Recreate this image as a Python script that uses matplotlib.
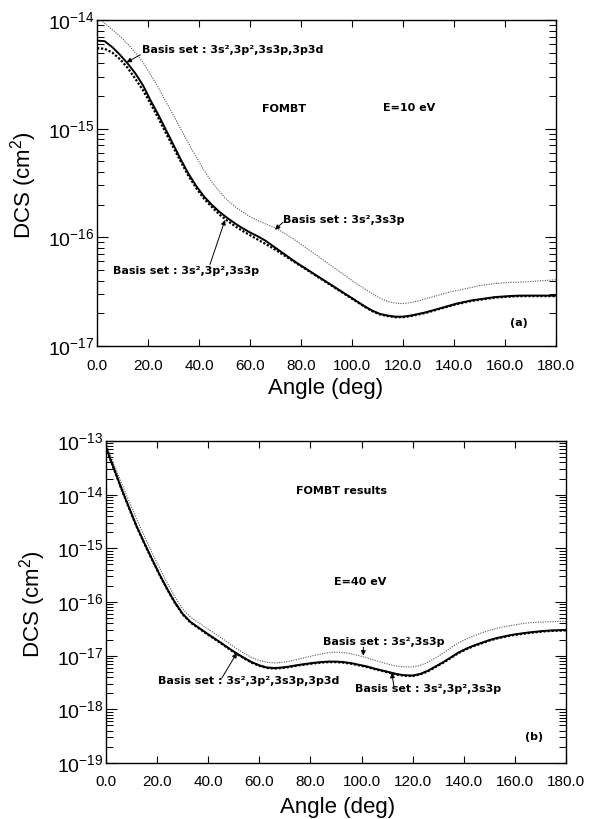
import numpy as np
import matplotlib
matplotlib.use("Agg")
import matplotlib.pyplot as plt
from matplotlib.ticker import FixedLocator, LogLocator, FuncFormatter, NullFormatter

plt.rcParams["font.family"] = ["Liberation Sans", "DejaVu Sans"]
plt.rcParams["mathtext.fontset"] = "custom"
plt.rcParams["mathtext.rm"] = "Liberation Sans"
plt.rcParams["mathtext.default"] = "regular"

# scattering angle (deg), same grid for both energies
angle = [0, 3, 6, 9, 12, 15, 18, 21, 24, 27, 30, 33, 36, 39, 42, 45, 48, 51, 54,
         57, 60, 63, 66, 69, 72, 75, 78, 81, 84, 87, 90, 93, 96, 99, 102, 105, 108,
         111, 114, 117, 120, 123, 126, 129, 132, 135, 138, 141, 144, 147, 150, 153,
         156, 159, 162, 165, 168, 171, 174, 177, 180]

# ---- (a) E = 10 eV, log10 DCS (cm^2) ----
full_a = [-14.19, -14.195, -14.25, -14.32, -14.40, -14.49, -14.60, -14.74, -14.87,
          -15.01, -15.15, -15.29, -15.42, -15.53, -15.625, -15.70, -15.765, -15.82,
          -15.87, -15.915, -15.955, -15.99, -16.03, -16.08, -16.13, -16.18, -16.23,
          -16.275, -16.32, -16.365, -16.41, -16.455, -16.50, -16.545, -16.59, -16.635,
          -16.675, -16.705, -16.72, -16.73, -16.73, -16.72, -16.705, -16.69, -16.67,
          -16.65, -16.63, -16.61, -16.595, -16.58, -16.57, -16.56, -16.55, -16.545,
          -16.54, -16.537, -16.536, -16.536, -16.536, -16.536, -16.536]
nod_a = [-14.26, -14.265, -14.30, -14.36, -14.44, -14.54, -14.645, -14.77, -14.90,
         -15.04, -15.175, -15.31, -15.44, -15.55, -15.645, -15.72, -15.79, -15.845,
         -15.895, -15.94, -15.98, -16.02, -16.06, -16.10, -16.145, -16.19, -16.235,
         -16.28, -16.325, -16.37, -16.415, -16.46, -16.505, -16.55, -16.595,
         -16.64, -16.68, -16.71, -16.725, -16.735, -16.735, -16.725, -16.71,
         -16.695, -16.675, -16.655, -16.635, -16.615, -16.60, -16.585, -16.575,
         -16.565, -16.555, -16.55, -16.545, -16.542, -16.541, -16.541, -16.541,
         -16.541, -16.541]
small_a = [-13.97, -14.03, -14.09, -14.15, -14.22, -14.30, -14.39, -14.50, -14.62,
           -14.75, -14.88, -15.01, -15.14, -15.265, -15.385, -15.49, -15.58, -15.655,
           -15.715, -15.765, -15.81, -15.845, -15.875, -15.905, -15.94, -15.985,
           -16.03, -16.08, -16.13, -16.18, -16.23, -16.28, -16.33, -16.38, -16.43,
           -16.475, -16.52, -16.56, -16.59, -16.605, -16.61, -16.60, -16.585, -16.565,
           -16.545, -16.525, -16.505, -16.49, -16.475, -16.46, -16.445, -16.435,
           -16.425, -16.42, -16.415, -16.413, -16.41, -16.405, -16.40, -16.395, -16.39]

# ---- (b) E = 40 eV, log10 DCS (cm^2) ----
full_b = [-13.12, -13.50, -13.88, -14.24, -14.59, -14.90, -15.20, -15.49, -15.76,
          -16.01, -16.22, -16.37, -16.47, -16.57, -16.665, -16.76, -16.86, -16.955,
          -17.04, -17.12, -17.18, -17.22, -17.23, -17.22, -17.20, -17.175, -17.155,
          -17.135, -17.12, -17.11, -17.11, -17.12, -17.14, -17.17, -17.20, -17.24,
          -17.275, -17.31, -17.345, -17.365, -17.37, -17.34, -17.28, -17.20, -17.12,
          -17.03, -16.94, -16.87, -16.81, -16.76, -16.71, -16.67, -16.64, -16.61,
          -16.59, -16.57, -16.555, -16.54, -16.53, -16.525, -16.52]
nod_b = [-13.13, -13.51, -13.89, -14.25, -14.60, -14.91, -15.21, -15.50, -15.77,
         -16.02, -16.23, -16.38, -16.48, -16.58, -16.675, -16.77, -16.87, -16.965,
         -17.05, -17.13, -17.19, -17.23, -17.24, -17.23, -17.21, -17.185, -17.165,
         -17.145, -17.13, -17.12, -17.12, -17.13, -17.15, -17.18, -17.21, -17.25,
         -17.285, -17.32, -17.355, -17.375, -17.38, -17.35, -17.29, -17.21, -17.13,
         -17.04, -16.95, -16.88, -16.82, -16.77, -16.72, -16.68, -16.65, -16.62,
         -16.60, -16.58, -16.565, -16.55, -16.54, -16.535, -16.53]
small_b = [-13.04, -13.42, -13.78, -14.12, -14.46, -14.77, -15.08, -15.37, -15.65,
           -15.91, -16.13, -16.28, -16.38, -16.475, -16.57, -16.665, -16.765,
           -16.865, -16.955, -17.035, -17.09, -17.125, -17.135, -17.125, -17.10,
           -17.07, -17.035, -17.00, -16.97, -16.945, -16.935, -16.945, -16.965,
           -17.00, -17.04, -17.085, -17.125, -17.165, -17.195, -17.21, -17.21, -17.18,
           -17.12, -17.04, -16.95, -16.85, -16.76, -16.69, -16.63, -16.575, -16.53,
           -16.49, -16.46, -16.435, -16.41, -16.39, -16.38, -16.372, -16.367,
           -16.363, -16.36]

xticks = [0, 20, 40, 60, 80, 100, 120, 140, 160, 180]
xticklabels = ["0.0", "20.0", "40.0", "60.0", "80.0", "100.0", "120.0", "140.0",
               "160.0", "180.0"]

lbl_full = "Basis set : 3s²,3p²,3s3p,3p3d"
lbl_nod = "Basis set : 3s²,3p²,3s3p"
lbl_small = "Basis set : 3s²,3s3p"

fig = plt.figure(figsize=(5.92, 8.19), dpi=100)
ax1 = fig.add_axes([97 / 592, 1 - 346 / 819, 459 / 592, 326 / 819])
ax2 = fig.add_axes([106 / 592, 1 - 763 / 819, 460 / 592, 322 / 819])


def draw(ax, full, nod, small):
    x = np.array(angle)
    ax.plot(x, 10.0 ** np.array(small), color="#555555", lw=0.8, ls=(0, (1, 1.2)))
    ax.plot(x, 10.0 ** np.array(nod), color="black", lw=1.6, ls=(0, (1, 0.8)))
    ax.plot(x, 10.0 ** np.array(full), color="black", lw=1.4)


def style(ax, ylo, yhi):
    ax.set_yscale("log")
    ax.set_xlim(0, 180)
    ax.set_ylim(10.0 ** ylo, 10.0 ** yhi)
    ax.set_xticks(xticks)
    ax.set_xticklabels(xticklabels, fontsize=11)
    ax.yaxis.set_major_locator(FixedLocator([10.0 ** e for e in range(ylo, yhi + 1)]))
    ax.yaxis.set_major_formatter(FuncFormatter(
        lambda v, p: "10$^{%d}$" % int(round(np.log10(v)))))
    ax.yaxis.set_minor_locator(LogLocator(base=10, subs=np.arange(2, 10), numticks=30))
    ax.yaxis.set_minor_formatter(NullFormatter())
    ax.tick_params(axis="x", which="major", direction="in", length=5, width=0.8,
                   top=True, pad=9)
    ax.tick_params(axis="y", which="major", direction="in", length=8, width=0.8,
                   right=True, labelsize=14, pad=2)
    ax.tick_params(axis="y", which="minor", direction="in", length=5, width=0.7,
                   right=True)
    for s in ax.spines.values():
        s.set_linewidth(1.0)
    ax.set_xlabel("Angle (deg)", fontsize=16)
    ax.set_ylabel("DCS (cm$^2$)", fontsize=16)
    ax.xaxis.label.set_va("center")
    ax.yaxis.label.set_va("center")


ann = dict(fontsize=8, family="DejaVu Sans", fontweight="bold", va="center",
           ha="left")
arw = dict(arrowstyle="-|>", color="black", lw=0.7, mutation_scale=7,
           shrinkA=0, shrinkB=0)

# panel (a)
draw(ax1, full_a, nod_a, small_a)
style(ax1, -17, -14)
ax1.xaxis.set_label_coords(0.499, -0.129)
ax1.yaxis.set_label_coords(-0.161, 0.494)
ax1.text(17.5, 10 ** -14.276, lbl_full, **ann)
ax1.annotate("", xy=(11.6, 10 ** -14.39), xytext=(17.0, 10 ** -14.32), arrowprops=arw)
ax1.text(64.6, 10 ** -14.82, "FOMBT", **ann)
ax1.text(112.2, 10 ** -14.81, "E=10 eV", **ann)
ax1.text(73.0, 10 ** -15.84, lbl_small, **ann)
ax1.annotate("", xy=(69.8, 10 ** -15.93), xytext=(73.0, 10 ** -15.86), arrowprops=arw)
ax1.text(6.3, 10 ** -16.31, lbl_nod, **ann)
ax1.annotate("", xy=(50.2, 10 ** -15.84), xytext=(44.3, 10 ** -16.25), arrowprops=arw)
ax1.text(162.0, 10 ** -16.79, "(a)", **ann)

# panel (b)
draw(ax2, full_b, nod_b, small_b)
style(ax2, -19, -13)
ax2.xaxis.set_label_coords(0.504, -0.137)
ax2.yaxis.set_label_coords(-0.159, 0.494)
ax2.text(74.4, 10 ** -13.93, "FOMBT results", **ann)
ax2.text(89.2, 10 ** -15.63, "E=40 eV", **ann)
ax2.text(85.0, 10 ** -16.74, lbl_small, **ann)
ax2.annotate("", xy=(100.7, 10 ** -17.0), xytext=(100.7, 10 ** -16.84), arrowprops=arw)
ax2.text(20.5, 10 ** -17.48, lbl_full, **ann)
ax2.annotate("", xy=(51.2, 10 ** -16.95), xytext=(45.3, 10 ** -17.42), arrowprops=arw)
ax2.text(97.5, 10 ** -17.62, lbl_nod, **ann)
ax2.annotate("", xy=(111.8, 10 ** -17.32), xytext=(112.7, 10 ** -17.58), arrowprops=arw)
ax2.text(164.0, 10 ** -18.51, "(b)", **ann)

fig.savefig("out.png", dpi=100)
